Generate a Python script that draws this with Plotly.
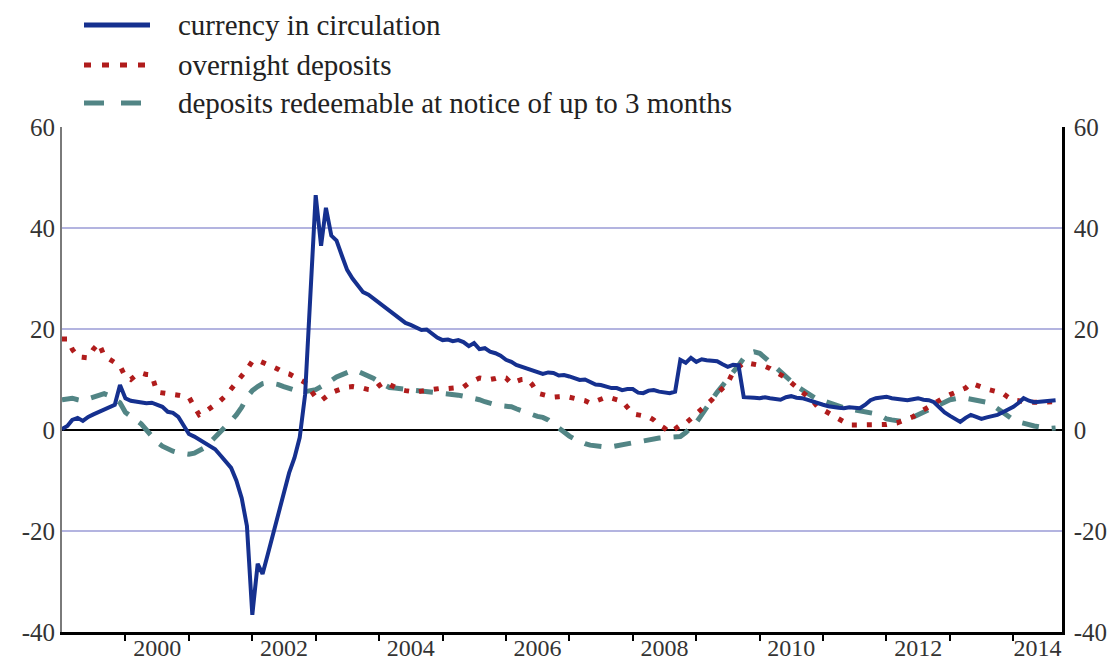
import plotly.graph_objects as go
import pandas as pd

# Monthly observations, Jan 1999 - Sep 2014 (annual growth rates, %)
months = pd.date_range("1999-01-01", periods=189, freq="MS")

currency = [
    0.2, 0.8, 2.0, 2.4, 1.8, 2.6, 3.1, 3.6, 4.0, 4.6, 5.0, 8.9,          # 1999
    6.3, 5.8, 5.6, 5.5, 5.3, 5.4, 5.0, 4.6, 3.6, 3.4, 2.6, 1.0,          # 2000
    -0.8, -1.3, -1.9, -2.4, -3.0, -3.8, -5.0, -6.3, -7.5, -10.0, -13.5, -19.0,  # 2001
    -36.6, -26.5, -28.5, -24.5, -20.5, -17.0, -13.0, -8.5, -5.5, -1.5, 7.0, 25.0,  # 2002
    46.5, 36.5, 44.0, 38.5, 37.5, 34.5, 31.7, 30.0, 28.5, 27.3, 26.8, 26.0,  # 2003
    25.2, 24.4, 23.5, 22.6, 21.8, 21.2, 20.8, 20.4, 19.8, 19.9, 19.0, 18.3,  # 2004
    17.8, 17.9, 17.6, 17.8, 17.4, 16.6, 17.2, 16.0, 16.2, 15.5, 15.2, 14.7,  # 2005
    13.9, 13.5, 12.9, 12.5, 12.2, 11.8, 11.5, 11.1, 11.4, 11.3, 10.8, 10.9,  # 2006
    10.6, 10.2, 9.9, 10.0, 9.4, 9.0, 8.9, 8.6, 8.3, 8.3, 7.9, 8.1,          # 2007
    8.1, 7.4, 7.3, 7.8, 7.9, 7.6, 7.5, 7.3, 7.6, 13.9, 13.3, 14.3,          # 2008
    13.5, 14.0, 13.8, 13.7, 13.6, 13.0, 12.5, 12.9, 12.8, 6.5, 6.5, 6.4,    # 2009
    6.3, 6.5, 6.3, 6.1, 6.0, 6.5, 6.7, 6.4, 6.3, 6.0, 5.6, 5.3,             # 2010
    5.0, 4.7, 4.5, 4.4, 4.3, 4.5, 4.4, 4.3, 5.0, 5.9, 6.3, 6.5,             # 2011
    6.6, 6.3, 6.2, 6.0, 5.9, 6.1, 6.3, 6.0, 5.9, 5.5, 4.5, 3.5,             # 2012
    2.8, 2.2, 1.6, 2.4, 3.0, 2.6, 2.2, 2.5, 2.7, 3.0, 3.5, 4.0,             # 2013
    4.6, 5.4, 6.3, 5.8, 5.5, 5.6, 5.7, 5.8, 5.9,                            # 2014
]

overnight = [
    18.0, 18.0, 16.0, 14.5, 14.4, 14.3, 16.0, 17.2, 14.7, 14.0, 13.2, 12.7,  # 1999
    10.5, 10.0, 10.8, 11.3, 11.0, 10.9, 7.5, 7.4, 7.3, 7.1, 6.9, 6.7,        # 2000
    6.5, 4.6, 3.0, 3.5, 4.2, 5.0, 5.8, 6.8, 8.1, 9.3, 10.5, 12.0,           # 2001
    13.6, 13.8, 13.4, 12.8, 12.5, 12.0, 11.4, 11.1, 10.5, 9.8, 9.4, 8.0,    # 2002
    6.5, 5.8, 6.6, 7.4, 7.8, 8.2, 8.5, 8.6, 8.5, 8.3, 8.0, 7.9,             # 2003
    8.8, 9.5, 9.0, 8.5, 8.0, 7.8, 7.6, 7.5, 7.7, 7.9, 8.1, 8.3,             # 2004
    8.3, 8.2, 8.3, 8.3, 8.5, 9.3, 9.8, 10.3, 10.1, 10.0, 10.2, 10.5,        # 2005
    10.3, 9.2, 9.6, 10.0, 10.1, 9.0, 7.3, 7.0, 6.8, 6.5, 6.6, 6.7,          # 2006
    6.5, 6.3, 6.1, 5.8, 5.3, 5.7, 6.2, 6.5, 6.3, 5.9, 5.7, 4.5,             # 2007
    3.2, 3.0, 2.8, 2.6, 2.0, 1.0, 0.4, -0.5, 0.2, 1.0, 1.3, 2.2,            # 2008
    3.0, 3.9, 4.8, 6.0, 7.2, 8.3, 9.3, 11.5, 12.3, 13.3, 13.2, 13.0,        # 2009
    12.9, 12.6, 12.2, 11.6, 11.1, 10.3, 9.4, 8.5, 7.6, 6.9, 5.8, 4.6,       # 2010
    4.0, 3.3, 2.6, 2.0, 1.5, 1.0, 1.0, 1.0, 1.0, 1.0, 1.0, 1.0,             # 2011
    1.1, 1.3, 1.4, 1.8, 2.2, 2.6, 3.3, 4.0, 4.6, 5.3, 5.9, 6.5,             # 2012
    7.0, 7.5, 7.7, 8.3, 9.3, 9.0, 8.5, 8.1, 7.8, 7.5, 7.3, 6.5,             # 2013
    5.9, 5.8, 5.6, 5.5, 5.5, 5.5, 5.5, 5.5, 5.6,                            # 2014
]

notice = [
    6.0, 6.2, 6.3, 6.0, 5.8, 6.2, 6.6, 7.0, 7.2, 6.8, 6.0, 5.4,             # 1999
    3.5, 2.6, 2.0, 1.2, 0.0, -1.2, -2.4, -3.2, -3.8, -4.2, -4.5, -4.7,      # 2000
    -4.8, -4.6, -4.2, -3.5, -2.5, -1.5, -0.5, 0.5, 1.8, 3.0, 4.5, 6.5,      # 2001
    7.8, 8.6, 9.2, 9.4, 9.3, 9.0, 8.6, 8.2, 7.9, 7.7, 7.6, 7.8,             # 2002
    8.0, 8.6, 9.3, 9.8, 10.5, 11.0, 11.5, 11.8, 11.6, 11.2, 10.7, 10.2,     # 2003
    9.5, 8.8, 8.4, 8.3, 8.2, 8.0, 7.8, 7.7, 7.6, 7.6, 7.6, 7.5,             # 2004
    7.4, 7.3, 7.1, 6.9, 6.7, 6.5, 6.4, 6.0, 5.6, 5.2, 5.0, 4.8,             # 2005
    4.8, 4.6, 4.2, 3.8, 3.3, 2.9, 2.7, 2.5, 2.0, 1.2, 0.3, -0.5,            # 2006
    -1.2, -1.8, -2.3, -2.7, -3.0, -3.2, -3.3, -3.4, -3.3, -3.1, -2.9, -2.6,  # 2007
    -2.4, -2.2, -2.0, -1.8, -1.7, -1.6, -1.5, -1.4, -1.5, -1.3, -0.5, 0.5,  # 2008
    1.5, 3.0, 4.5, 6.0, 7.5, 8.8, 10.0, 11.3, 12.8, 14.2, 15.2, 15.5,       # 2009
    15.2, 14.3, 13.4, 12.5, 11.5, 10.5, 9.5, 8.7, 8.0, 7.3, 6.6, 6.0,       # 2010
    5.8, 5.4, 5.0, 4.7, 4.4, 4.2, 4.0, 3.8, 3.7, 3.5, 3.2, 2.8,             # 2011
    2.2, 2.0, 1.8, 1.7, 2.0, 2.5, 3.0, 3.5, 4.0, 4.5, 5.0, 5.5,             # 2012
    6.0, 6.2, 6.4, 6.3, 6.1, 6.0, 5.8, 5.5, 5.0, 4.2, 3.4, 2.8,             # 2013
    2.0, 1.6, 1.3, 1.0, 0.8, 0.6, 0.4, 0.3, 0.4,                            # 2014
]

series_names = [
    "currency in circulation",
    "overnight deposits",
    "deposits redeemable at notice of up to 3 months",
]

year_labels = ["2000", "2002", "2004", "2006", "2008", "2010", "2012", "2014"]
year_label_pos = ["2000-07-02", "2002-07-02", "2004-07-02", "2006-07-02",
                  "2008-07-02", "2010-07-02", "2012-07-02", "2014-05-20"]
year_starts = [f"{y}-01-01" for y in range(2000, 2015)]
y_ticks = [-40, -20, 0, 20, 40, 60]
y_ticktext = ["-40", "-20", "0", "20", "40", "60"]

BLUE = "#15308f"
RED = "#b01c1c"
TEAL = "#528585"
FONT = "Liberation Serif"

fig = go.Figure()
fig.add_trace(go.Scatter(x=months, y=notice, mode="lines", name=series_names[2],
                         line=dict(color=TEAL, width=5, dash="17px,13px")))
fig.add_trace(go.Scatter(x=months, y=overnight, mode="lines", name=series_names[1],
                         line=dict(color=RED, width=5, dash="5px,10px")))
fig.add_trace(go.Scatter(x=months, y=currency, mode="lines", name=series_names[0],
                         line=dict(color=BLUE, width=4)))
# anchor for right-hand axis
fig.add_trace(go.Scatter(x=[months[0]], y=[None], yaxis="y2", showlegend=False,
                         hoverinfo="skip", mode="lines"))

# page has an 8px body margin: figure is 1112x654 placed at (8, 8)
OFF = 8
FW, FH = 1120 - OFF, 662 - OFF
L, W, T, H = 62 - OFF, 1000, 127 - OFF, 505   # plot area in figure pixels


def px_x(p):
    """page pixel -> paper fraction"""
    return (p - OFF - L) / W


def px_y(p):
    return (T + H - (p - OFF)) / H


legend_rows = [(25, BLUE, "solid", series_names[0]),
               (65, RED, "7px,11px", series_names[1]),
               (103, TEAL, "20px,17px", series_names[2])]
for yy, col, dash, txt in legend_rows:
    fig.add_shape(type="line", xref="paper", yref="paper",
                  x0=px_x(84), x1=px_x(150), y0=px_y(yy), y1=px_y(yy),
                  line=dict(color=col, width=5, dash=dash))
    fig.add_annotation(xref="paper", yref="paper", x=px_x(176), y=px_y(yy),
                       xanchor="left", yanchor="middle", showarrow=False,
                       text=txt, font=dict(family=FONT, size=29, color="#222"))

tickfont = dict(family=FONT, size=25, color="#333")
fig.update_layout(
    width=FW, height=FH,
    margin=dict(l=L, r=FW - L - W, t=T, b=FH - T - H),
    plot_bgcolor="white", paper_bgcolor="white",
    showlegend=False,
    xaxis=dict(
        type="date", automargin=False,
        range=["1999-01-01", "2014-10-08"],
        tickmode="array", tickvals=year_label_pos, ticktext=year_labels,
        ticks="", showgrid=False, zeroline=False,
        showline=True, linecolor="black", linewidth=2.5,
        tickfont=dict(family=FONT, size=24, color="#333"), ticklabelstandoff=-8,
        minor=dict(tickmode="array", tickvals=year_starts, ticks="outside",
                   ticklen=6, tickwidth=2, tickcolor="black", showgrid=False),
    ),
    yaxis=dict(
        automargin=False,
        range=[-40, 60], tickmode="array", tickvals=y_ticks, ticktext=y_ticktext,
        showgrid=True, gridcolor="#b3b4e0", gridwidth=1.5,
        zeroline=True, zerolinecolor="black", zerolinewidth=1.5,
        showline=True, linecolor="#7a7a7a", linewidth=2,
        ticks="", tickfont=tickfont,
    ),
    yaxis2=dict(
        automargin=False,
        range=[-40, 60], tickmode="array", tickvals=y_ticks, ticktext=y_ticktext,
        overlaying="y", side="right",
        showgrid=False, zeroline=False,
        showline=True, linecolor="black", linewidth=2.5,
        ticks="", tickfont=tickfont, ticklabelstandoff=4,
    ),
)

fig.write_html("out.html")
